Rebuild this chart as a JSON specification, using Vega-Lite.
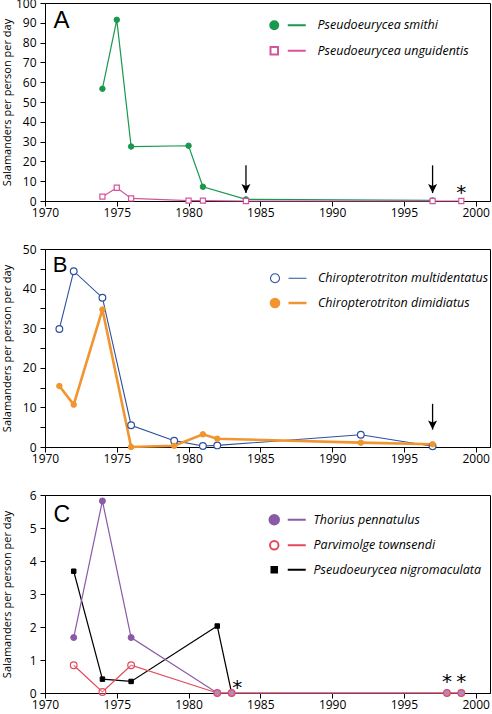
{
  "$schema": "https://vega.github.io/schema/vega-lite/v6.json",
  "padding": {"left": 0, "top": -4, "right": 1, "bottom": 0},
  "bounds": "flush",
  "spacing": 48,
  "resolve": {
    "scale": {"stroke": "independent", "strokeWidth": "independent"},
    "legend": {"stroke": "independent"}
  },
  "config": {
    "font": "Open Sans",
    "view": {"stroke": "#000000", "strokeWidth": 1},
    "axis": {
      "grid": false, "domainColor": "#000000", "tickColor": "#000000", "labelColor": "#000000",
      "labelFont": "Open Sans", "labelFontSize": 12, "tickSize": 5, "labelFlush": false, "labelOverlap": false,
      "titleFont": "Open Sans", "titleFontSize": 11, "titleFontWeight": "normal", "titleColor": "#000000"
    },
    "axisX": {"labelPadding": 1},
    "axisY": {"labelPadding": 4, "minExtent": 30, "maxExtent": 60, "titlePadding": 3},
    "legend": {
      "orient": "none", "title": null, "padding": 0, "symbolSize": 100, "symbolStrokeWidth": 2,
      "labelFont": "Open Sans", "labelFontStyle": "italic", "labelFontSize": 12.5, "labelColor": "#000000",
      "rowPadding": 8.5, "symbolLimit": 0, "labelLimit": 400
    }
  },
  "datasets": {
    "series": [
      {"panel": "A", "species": "Pseudoeurycea smithi", "year": 1974, "value": 56.7},
      {"panel": "A", "species": "Pseudoeurycea smithi", "year": 1975, "value": 91.5},
      {"panel": "A", "species": "Pseudoeurycea smithi", "year": 1976, "value": 27.5},
      {"panel": "A", "species": "Pseudoeurycea smithi", "year": 1980, "value": 27.9},
      {"panel": "A", "species": "Pseudoeurycea smithi", "year": 1981, "value": 7.2},
      {"panel": "A", "species": "Pseudoeurycea smithi", "year": 1984, "value": 0.8},
      {"panel": "A", "species": "Pseudoeurycea smithi", "year": 1997, "value": 0.3},
      {"panel": "A", "species": "Pseudoeurycea unguidentis", "year": 1974, "value": 2.2},
      {"panel": "A", "species": "Pseudoeurycea unguidentis", "year": 1975, "value": 6.7},
      {"panel": "A", "species": "Pseudoeurycea unguidentis", "year": 1976, "value": 1.3},
      {"panel": "A", "species": "Pseudoeurycea unguidentis", "year": 1980, "value": 0.2},
      {"panel": "A", "species": "Pseudoeurycea unguidentis", "year": 1981, "value": 0.2},
      {"panel": "A", "species": "Pseudoeurycea unguidentis", "year": 1984, "value": 0},
      {"panel": "A", "species": "Pseudoeurycea unguidentis", "year": 1997, "value": 0},
      {"panel": "A", "species": "Pseudoeurycea unguidentis", "year": 1999, "value": 0},
      {"panel": "B", "species": "Chiropterotriton multidentatus", "year": 1971, "value": 29.8},
      {"panel": "B", "species": "Chiropterotriton multidentatus", "year": 1972, "value": 44.4},
      {"panel": "B", "species": "Chiropterotriton multidentatus", "year": 1974, "value": 37.7},
      {"panel": "B", "species": "Chiropterotriton multidentatus", "year": 1976, "value": 5.5},
      {"panel": "B", "species": "Chiropterotriton multidentatus", "year": 1979, "value": 1.6},
      {"panel": "B", "species": "Chiropterotriton multidentatus", "year": 1981, "value": 0.25},
      {"panel": "B", "species": "Chiropterotriton multidentatus", "year": 1982, "value": 0.4},
      {"panel": "B", "species": "Chiropterotriton multidentatus", "year": 1992, "value": 3.1},
      {"panel": "B", "species": "Chiropterotriton multidentatus", "year": 1997, "value": 0.2},
      {"panel": "B", "species": "Chiropterotriton dimidiatus", "year": 1971, "value": 15.4},
      {"panel": "B", "species": "Chiropterotriton dimidiatus", "year": 1972, "value": 10.7},
      {"panel": "B", "species": "Chiropterotriton dimidiatus", "year": 1974, "value": 34.7},
      {"panel": "B", "species": "Chiropterotriton dimidiatus", "year": 1976, "value": 0},
      {"panel": "B", "species": "Chiropterotriton dimidiatus", "year": 1979, "value": 0.3},
      {"panel": "B", "species": "Chiropterotriton dimidiatus", "year": 1981, "value": 3.2},
      {"panel": "B", "species": "Chiropterotriton dimidiatus", "year": 1982, "value": 2.1},
      {"panel": "B", "species": "Chiropterotriton dimidiatus", "year": 1992, "value": 1.1},
      {"panel": "B", "species": "Chiropterotriton dimidiatus", "year": 1997, "value": 0.7},
      {"panel": "C", "species": "Pseudoeurycea nigromaculata", "year": 1972, "value": 3.69},
      {"panel": "C", "species": "Pseudoeurycea nigromaculata", "year": 1974, "value": 0.42},
      {"panel": "C", "species": "Pseudoeurycea nigromaculata", "year": 1976, "value": 0.35},
      {"panel": "C", "species": "Pseudoeurycea nigromaculata", "year": 1982, "value": 2.03},
      {"panel": "C", "species": "Pseudoeurycea nigromaculata", "year": 1983, "value": 0},
      {"panel": "C", "species": "Thorius pennatulus", "year": 1972, "value": 1.68},
      {"panel": "C", "species": "Thorius pennatulus", "year": 1974, "value": 5.82},
      {"panel": "C", "species": "Thorius pennatulus", "year": 1976, "value": 1.68},
      {"panel": "C", "species": "Thorius pennatulus", "year": 1982, "value": 0},
      {"panel": "C", "species": "Thorius pennatulus", "year": 1983, "value": 0},
      {"panel": "C", "species": "Thorius pennatulus", "year": 1998, "value": 0},
      {"panel": "C", "species": "Thorius pennatulus", "year": 1999, "value": 0},
      {"panel": "C", "species": "Parvimolge townsendi", "year": 1972, "value": 0.84},
      {"panel": "C", "species": "Parvimolge townsendi", "year": 1974, "value": 0.03},
      {"panel": "C", "species": "Parvimolge townsendi", "year": 1976, "value": 0.84},
      {"panel": "C", "species": "Parvimolge townsendi", "year": 1982, "value": 0},
      {"panel": "C", "species": "Parvimolge townsendi", "year": 1983, "value": 0},
      {"panel": "C", "species": "Parvimolge townsendi", "year": 1998, "value": 0},
      {"panel": "C", "species": "Parvimolge townsendi", "year": 1999, "value": 0}
    ],
    "arrows": [
      {"panel": "A", "year": 1984, "top": 18, "tip": 4},
      {"panel": "A", "year": 1997, "top": 18, "tip": 4},
      {"panel": "B", "year": 1997, "top": 10.9, "tip": 4.4}
    ],
    "stars": [
      {"panel": "A", "year": 1999, "value": 6.7, "text": "*"},
      {"panel": "C", "year": 1983.4, "value": 0.3, "text": "*"},
      {"panel": "C", "year": 1998, "value": 0.47, "text": "*"},
      {"panel": "C", "year": 1999, "value": 0.47, "text": "*"}
    ],
    "letters": [
      {"panel": "A", "year": 1970.59, "value": 87.5, "text": "A"},
      {"panel": "B", "year": 1970.54, "value": 44.1, "text": "B"},
      {"panel": "C", "year": 1970.6, "value": 5.19, "text": "C"}
    ]
  },
  "vconcat": [
    {
      "width": 445, "height": 198,
      "layer": [
        {
          "data": {"name": "series"},
          "transform": [{"filter": "datum.panel === 'A'"}],
          "mark": {"type": "line", "strokeWidth": 1.2},
          "encoding": {
            "x": {"field": "year", "type": "quantitative", "scale": {"domain": [1970, 2001], "nice": false, "zero": false},
                  "axis": {"values": [1970, 1975, 1980, 1985, 1990, 1995, 2000], "tickCount": 40, "format": "d", "title": null}},
            "y": {"field": "value", "type": "quantitative", "scale": {"domain": [0, 100], "nice": false},
                  "axis": {"values": [0, 10, 20, 30, 40, 50, 60, 70, 80, 90, 100], "tickCount": 40, "format": "d", "title": "Salamanders per person per day"}},
            "stroke": {"field": "species", "type": "nominal",
                       "scale": {"domain": ["Pseudoeurycea smithi", "Pseudoeurycea unguidentis"], "range": ["#1a9850", "#d6549c"]},
                       "legend": {"legendX": 223, "legendY": 16, "labelOffset": 37,
                         "encode": {"symbols": {"update": {
                           "shape": {"signal": "datum.index === 0 ? 'M0.8,0 A0.8,0.8 0 1,1 -0.8,0 A0.8,0.8 0 1,1 0.8,0 Z M2.7,0 L6.3,0' : 'M-0.75,-0.75 L0.75,-0.75 L0.75,0.75 L-0.75,0.75 Z M2.7,0 L6.3,0'"},
                           "fill": {"signal": "datum.index === 0 ? '#1a9850' : '#ffffff'"},
                           "strokeWidth": {"value": 2}}}}}}
          }
        },
        {
          "data": {"name": "series"},
          "transform": [{"filter": "datum.species === 'Pseudoeurycea smithi'"}],
          "mark": {"type": "point", "shape": "circle", "filled": true, "fill": "#1a9850", "stroke": "#1a9850", "strokeWidth": 1, "opacity": 1, "size": 30},
          "encoding": {"x": {"field": "year", "type": "quantitative"}, "y": {"field": "value", "type": "quantitative"}}
        },
        {
          "data": {"name": "series"},
          "transform": [{"filter": "datum.species === 'Pseudoeurycea unguidentis'"}],
          "mark": {"type": "point", "shape": "square", "filled": true, "fill": "#ffffff", "stroke": "#d6549c", "strokeWidth": 1.2, "opacity": 1, "size": 26},
          "encoding": {"x": {"field": "year", "type": "quantitative"}, "y": {"field": "value", "type": "quantitative"}}
        },
        {
          "data": {"name": "arrows"},
          "transform": [{"filter": "datum.panel === 'A'"}],
          "mark": {"type": "rule", "strokeWidth": 1.3, "color": "#000000"},
          "encoding": {"x": {"field": "year", "type": "quantitative"}, "y": {"field": "top", "type": "quantitative"}, "y2": {"field": "tip"}}
        },
        {
          "data": {"name": "arrows"},
          "transform": [{"filter": "datum.panel === 'A'"}],
          "mark": {"type": "point", "filled": true, "color": "#000000", "opacity": 1, "size": 100, "shape": "M0,0 L-0.9,-1.8 L0,-1.4 L0.9,-1.8 Z"},
          "encoding": {"x": {"field": "year", "type": "quantitative"}, "y": {"field": "tip", "type": "quantitative"}}
        },
        {
          "data": {"name": "stars"},
          "transform": [{"filter": "datum.panel === 'A'"}],
          "mark": {"type": "text", "font": "DejaVu Sans", "fontSize": 20, "dy": 5, "color": "#000000"},
          "encoding": {"x": {"field": "year", "type": "quantitative"}, "y": {"field": "value", "type": "quantitative"}, "text": {"field": "text"}}
        },
        {
          "data": {"name": "letters"},
          "transform": [{"filter": "datum.panel === 'A'"}],
          "mark": {"type": "text", "font": "Liberation Sans", "fontSize": 24, "align": "left", "baseline": "alphabetic", "color": "#000000"},
          "encoding": {"x": {"field": "year", "type": "quantitative"}, "y": {"field": "value", "type": "quantitative"}, "text": {"field": "text"}}
        }
      ]
    },
    {
      "width": 445, "height": 198,
      "layer": [
        {
          "data": {"name": "series"},
          "transform": [{"filter": "datum.panel === 'B'"}],
          "mark": {"type": "line"},
          "encoding": {
            "x": {"field": "year", "type": "quantitative", "scale": {"domain": [1970, 2001], "nice": false, "zero": false},
                  "axis": {"values": [1970, 1975, 1980, 1985, 1990, 1995, 2000], "tickCount": 40, "format": "d", "title": null}},
            "y": {"field": "value", "type": "quantitative", "scale": {"domain": [0, 50], "nice": false},
                  "axis": {"values": [0, 5, 10, 15, 20, 25, 30, 35, 40, 45, 50], "tickCount": 40, "format": "d", "labelExpr": "datum.value % 10 === 0 ? datum.label : ''", "title": "Salamanders per person per day"}},
            "stroke": {"field": "species", "type": "nominal",
                       "scale": {"domain": ["Chiropterotriton multidentatus", "Chiropterotriton dimidiatus"], "range": ["#2d4f9e", "#f0952f"]},
                       "legend": {"legendX": 223.5, "legendY": 23, "labelOffset": 36.5,
                         "encode": {"symbols": {"update": {
                           "shape": {"signal": "datum.index === 0 ? 'M0.9,0 A0.9,0.9 0 1,1 -0.9,0 A0.9,0.9 0 1,1 0.9,0 Z M2.7,0 L6.3,0' : 'M0.8,0 A0.8,0.8 0 1,1 -0.8,0 A0.8,0.8 0 1,1 0.8,0 Z M2.7,0 L6.3,0'"},
                           "fill": {"signal": "datum.index === 0 ? '#ffffff' : '#f0952f'"},
                           "strokeWidth": {"value": 2}, "strokeDash": {"value": []}}}}}},
            "strokeWidth": {"field": "species", "type": "nominal",
                       "scale": {"domain": ["Chiropterotriton multidentatus", "Chiropterotriton dimidiatus"], "range": [1.1, 2.6]}, "legend": null}
          }
        },
        {
          "data": {"name": "series"},
          "transform": [{"filter": "datum.species === 'Chiropterotriton multidentatus'"}],
          "mark": {"type": "point", "shape": "circle", "filled": true, "fill": "#ffffff", "stroke": "#2d4f9e", "strokeWidth": 1.2, "opacity": 1, "size": 45},
          "encoding": {"x": {"field": "year", "type": "quantitative"}, "y": {"field": "value", "type": "quantitative"}}
        },
        {
          "data": {"name": "series"},
          "transform": [{"filter": "datum.species === 'Chiropterotriton dimidiatus'"}],
          "mark": {"type": "point", "shape": "circle", "filled": true, "fill": "#f0952f", "stroke": "#f0952f", "strokeWidth": 1, "opacity": 1, "size": 30},
          "encoding": {"x": {"field": "year", "type": "quantitative"}, "y": {"field": "value", "type": "quantitative"}}
        },
        {
          "data": {"name": "arrows"},
          "transform": [{"filter": "datum.panel === 'B'"}],
          "mark": {"type": "rule", "strokeWidth": 1.3, "color": "#000000"},
          "encoding": {"x": {"field": "year", "type": "quantitative"}, "y": {"field": "top", "type": "quantitative"}, "y2": {"field": "tip"}}
        },
        {
          "data": {"name": "arrows"},
          "transform": [{"filter": "datum.panel === 'B'"}],
          "mark": {"type": "point", "filled": true, "color": "#000000", "opacity": 1, "size": 100, "shape": "M0,0 L-0.9,-1.8 L0,-1.4 L0.9,-1.8 Z"},
          "encoding": {"x": {"field": "year", "type": "quantitative"}, "y": {"field": "tip", "type": "quantitative"}}
        },
        {
          "data": {"name": "letters"},
          "transform": [{"filter": "datum.panel === 'B'"}],
          "mark": {"type": "text", "font": "Liberation Sans", "fontSize": 22, "align": "left", "baseline": "alphabetic", "color": "#000000"},
          "encoding": {"x": {"field": "year", "type": "quantitative"}, "y": {"field": "value", "type": "quantitative"}, "text": {"field": "text"}}
        }
      ]
    },
    {
      "width": 445, "height": 198,
      "layer": [
        {
          "data": {"name": "series"},
          "transform": [{"filter": "datum.panel === 'C'"}],
          "mark": {"type": "line", "strokeWidth": 1.2},
          "encoding": {
            "x": {"field": "year", "type": "quantitative", "scale": {"domain": [1970, 2001], "nice": false, "zero": false},
                  "axis": {"values": [1970, 1975, 1980, 1985, 1990, 1995, 2000], "tickCount": 40, "format": "d", "title": null}},
            "y": {"field": "value", "type": "quantitative", "scale": {"domain": [0, 6], "nice": false},
                  "axis": {"values": [0, 1, 2, 3, 4, 5, 6], "tickCount": 40, "format": "d", "title": "Salamanders per person per day"}},
            "stroke": {"field": "species", "type": "nominal",
                       "scale": {"domain": ["Thorius pennatulus", "Parvimolge townsendi", "Pseudoeurycea nigromaculata"], "range": ["#8a5aa6", "#e24a5c", "#000000"]},
                       "legend": {"legendX": 223, "legendY": 18.5, "labelOffset": 33,
                         "encode": {"symbols": {"update": {
                           "shape": {"signal": "datum.index === 0 ? 'M0.95,0 A0.95,0.95 0 1,1 -0.95,0 A0.95,0.95 0 1,1 0.95,0 Z M2.7,0 L6.3,0' : datum.index === 1 ? 'M0.85,0 A0.85,0.85 0 1,1 -0.85,0 A0.85,0.85 0 1,1 0.85,0 Z M2.7,0 L6.3,0' : 'M-0.55,-0.55 L0.55,-0.55 L0.55,0.55 L-0.55,0.55 Z M2.7,0 L6.3,0'"},
                           "fill": {"signal": "datum.index === 0 ? '#8a5aa6' : datum.index === 1 ? '#ffffff' : '#000000'"},
                           "strokeWidth": {"value": 2}}}}}}
          }
        },
        {
          "data": {"name": "series"},
          "transform": [{"filter": "datum.species === 'Pseudoeurycea nigromaculata'"}],
          "mark": {"type": "point", "shape": "square", "filled": true, "fill": "#000000", "stroke": "#000000", "strokeWidth": 1, "opacity": 1, "size": 20},
          "encoding": {"x": {"field": "year", "type": "quantitative"}, "y": {"field": "value", "type": "quantitative"}}
        },
        {
          "data": {"name": "series"},
          "transform": [{"filter": "datum.species === 'Thorius pennatulus'"}],
          "mark": {"type": "point", "shape": "circle", "filled": true, "fill": "#8a5aa6", "stroke": "#8a5aa6", "strokeWidth": 1, "opacity": 1, "size": 36},
          "encoding": {"x": {"field": "year", "type": "quantitative"}, "y": {"field": "value", "type": "quantitative"}}
        },
        {
          "data": {"name": "series"},
          "transform": [{"filter": "datum.species === 'Parvimolge townsendi'"}],
          "mark": {"type": "point", "shape": "circle", "filled": true, "fill": "#ffffff", "fillOpacity": 0.3, "stroke": "#e24a5c", "strokeWidth": 1.2, "opacity": 1, "size": 45},
          "encoding": {"x": {"field": "year", "type": "quantitative"}, "y": {"field": "value", "type": "quantitative"}}
        },
        {
          "data": {"name": "stars"},
          "transform": [{"filter": "datum.panel === 'C'"}],
          "mark": {"type": "text", "font": "DejaVu Sans", "fontSize": 20, "dy": 5, "color": "#000000"},
          "encoding": {"x": {"field": "year", "type": "quantitative"}, "y": {"field": "value", "type": "quantitative"}, "text": {"field": "text"}}
        },
        {
          "data": {"name": "letters"},
          "transform": [{"filter": "datum.panel === 'C'"}],
          "mark": {"type": "text", "font": "Liberation Sans", "fontSize": 23, "align": "left", "baseline": "alphabetic", "color": "#000000"},
          "encoding": {"x": {"field": "year", "type": "quantitative"}, "y": {"field": "value", "type": "quantitative"}, "text": {"field": "text"}}
        }
      ]
    }
  ]
}
